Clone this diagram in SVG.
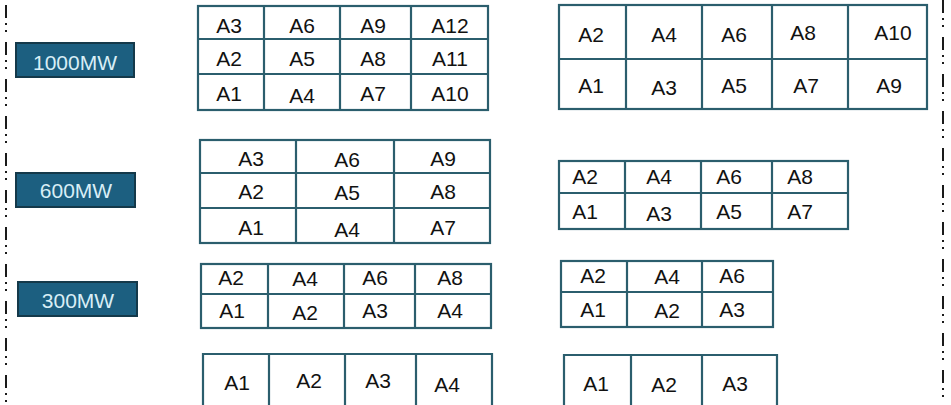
<svg xmlns="http://www.w3.org/2000/svg" width="951" height="405" viewBox="0 0 951 405">
<style>
.bg{fill:#ffffff}
.sep{stroke:#1a1a1a;stroke-width:2;stroke-dasharray:13 5 2 5 2 10;fill:none}
.tb{fill:#ffffff;stroke:#2b5e6d;stroke-width:2.2}
.gl{stroke:#2b5e6d;stroke-width:2.2}
.lb{fill:#1c5f80;stroke:#14394a;stroke-width:2}
.lt{font-family:"Liberation Sans",Arial,sans-serif;font-size:21px;fill:#d8eef6;text-anchor:middle}
.ct{font-family:"Liberation Sans",Arial,sans-serif;font-size:21px;fill:#111111;text-anchor:middle}
</style>
<rect class="bg" x="0" y="0" width="951" height="405"/>
<g id="separators">
<line class="sep" x1="6" y1="5" x2="6" y2="405"/>
<line class="sep" x1="943" y1="0" x2="943" y2="405"/>
</g>
<g id="label-1000">
<rect class="lb" x="16" y="43" width="118" height="34"/>
<text class="lt" x="75" y="70">1000MW</text>
</g>
<g id="label-600">
<rect class="lb" x="16" y="173" width="119" height="34"/>
<text class="lt" x="76" y="198">600MW</text>
</g>
<g id="label-300">
<rect class="lb" x="18" y="282" width="119" height="34"/>
<text class="lt" x="78" y="308">300MW</text>
</g>
<g id="table-1000-left">
<rect class="tb" x="198" y="6" width="290" height="104"/>
<line class="gl" x1="264" y1="6" x2="264" y2="110"/>
<line class="gl" x1="340" y1="6" x2="340" y2="110"/>
<line class="gl" x1="411" y1="6" x2="411" y2="110"/>
<line class="gl" x1="198" y1="39" x2="488" y2="39"/>
<line class="gl" x1="198" y1="74" x2="488" y2="74"/>
<text class="ct" x="229" y="33">A3</text>
<text class="ct" x="302" y="33">A6</text>
<text class="ct" x="373" y="33">A9</text>
<text class="ct" x="450" y="33">A12</text>
<text class="ct" x="229" y="66">A2</text>
<text class="ct" x="302" y="66">A5</text>
<text class="ct" x="373" y="66">A8</text>
<text class="ct" x="450" y="66">A11</text>
<text class="ct" x="229" y="101">A1</text>
<text class="ct" x="302" y="103">A4</text>
<text class="ct" x="373" y="101">A7</text>
<text class="ct" x="450" y="101">A10</text>
</g>
<g id="table-1000-right">
<rect class="tb" x="559" y="5" width="368" height="104"/>
<line class="gl" x1="626" y1="5" x2="626" y2="109"/>
<line class="gl" x1="702" y1="5" x2="702" y2="109"/>
<line class="gl" x1="772" y1="5" x2="772" y2="109"/>
<line class="gl" x1="848" y1="5" x2="848" y2="109"/>
<line class="gl" x1="559" y1="59" x2="927" y2="59"/>
<text class="ct" x="591" y="42">A2</text>
<text class="ct" x="664" y="42">A4</text>
<text class="ct" x="734" y="42">A6</text>
<text class="ct" x="803" y="40">A8</text>
<text class="ct" x="893" y="40">A10</text>
<text class="ct" x="591" y="93">A1</text>
<text class="ct" x="664" y="95">A3</text>
<text class="ct" x="734" y="93">A5</text>
<text class="ct" x="806" y="93">A7</text>
<text class="ct" x="889" y="93">A9</text>
</g>
<g id="table-600-left">
<rect class="tb" x="200" y="140" width="290" height="103"/>
<line class="gl" x1="296" y1="140" x2="296" y2="243"/>
<line class="gl" x1="394" y1="140" x2="394" y2="243"/>
<line class="gl" x1="200" y1="173" x2="490" y2="173"/>
<line class="gl" x1="200" y1="208" x2="490" y2="208"/>
<text class="ct" x="251" y="166">A3</text>
<text class="ct" x="347" y="167">A6</text>
<text class="ct" x="443" y="166">A9</text>
<text class="ct" x="251" y="199">A2</text>
<text class="ct" x="347" y="200">A5</text>
<text class="ct" x="443" y="199">A8</text>
<text class="ct" x="251" y="235">A1</text>
<text class="ct" x="347" y="237">A4</text>
<text class="ct" x="443" y="235">A7</text>
</g>
<g id="table-600-right">
<rect class="tb" x="559" y="161" width="289" height="68"/>
<line class="gl" x1="625" y1="161" x2="625" y2="229"/>
<line class="gl" x1="701" y1="161" x2="701" y2="229"/>
<line class="gl" x1="772" y1="161" x2="772" y2="229"/>
<line class="gl" x1="559" y1="193" x2="848" y2="193"/>
<text class="ct" x="585" y="184">A2</text>
<text class="ct" x="659" y="184">A4</text>
<text class="ct" x="729" y="184">A6</text>
<text class="ct" x="800" y="184">A8</text>
<text class="ct" x="585" y="219">A1</text>
<text class="ct" x="659" y="221">A3</text>
<text class="ct" x="729" y="219">A5</text>
<text class="ct" x="800" y="219">A7</text>
</g>
<g id="table-300-left">
<rect class="tb" x="201" y="264" width="290" height="64"/>
<line class="gl" x1="268" y1="264" x2="268" y2="328"/>
<line class="gl" x1="344" y1="264" x2="344" y2="328"/>
<line class="gl" x1="415" y1="264" x2="415" y2="328"/>
<line class="gl" x1="201" y1="294" x2="491" y2="294"/>
<text class="ct" x="231" y="285">A2</text>
<text class="ct" x="305" y="286">A4</text>
<text class="ct" x="375" y="285">A6</text>
<text class="ct" x="450" y="285">A8</text>
<text class="ct" x="232" y="318">A1</text>
<text class="ct" x="305" y="320">A2</text>
<text class="ct" x="375" y="318">A3</text>
<text class="ct" x="450" y="318">A4</text>
</g>
<g id="table-300-right">
<rect class="tb" x="561" y="261" width="212" height="66"/>
<line class="gl" x1="627" y1="261" x2="627" y2="327"/>
<line class="gl" x1="702" y1="261" x2="702" y2="327"/>
<line class="gl" x1="561" y1="292" x2="773" y2="292"/>
<text class="ct" x="593" y="283">A2</text>
<text class="ct" x="667" y="284">A4</text>
<text class="ct" x="732" y="283">A6</text>
<text class="ct" x="593" y="317">A1</text>
<text class="ct" x="667" y="318">A2</text>
<text class="ct" x="732" y="317">A3</text>
</g>
<g id="table-bottom-left">
<path class="tb" d="M203 406 V354 H492 V406"/>
<line class="gl" x1="269" y1="354" x2="269" y2="406"/>
<line class="gl" x1="345" y1="354" x2="345" y2="406"/>
<line class="gl" x1="416" y1="354" x2="416" y2="406"/>
<text class="ct" x="237" y="390">A1</text>
<text class="ct" x="309" y="388">A2</text>
<text class="ct" x="378" y="388">A3</text>
<text class="ct" x="447" y="392">A4</text>
</g>
<g id="table-bottom-right">
<path class="tb" d="M564 406 V355 H777 V406"/>
<line class="gl" x1="631" y1="355" x2="631" y2="406"/>
<line class="gl" x1="702" y1="355" x2="702" y2="406"/>
<text class="ct" x="596" y="391">A1</text>
<text class="ct" x="664" y="392">A2</text>
<text class="ct" x="735" y="391">A3</text>
</g>
</svg>
